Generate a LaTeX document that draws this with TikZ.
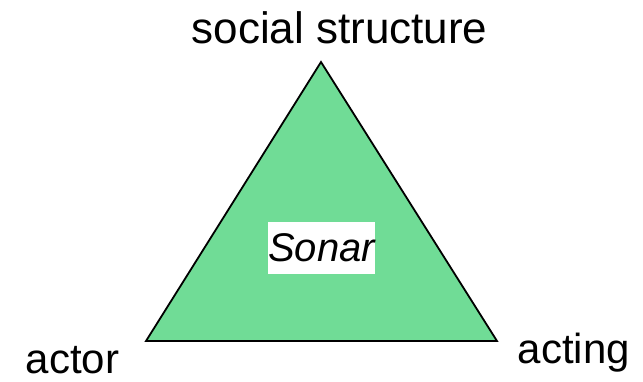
\documentclass[tikz,border=0pt]{standalone}
\usepackage{fontspec}
\setmainfont{Liberation Sans}
\definecolor{sonargreen}{RGB}{112,220,150}

\begin{document}
\begin{tikzpicture}[x=1pt,y=-1pt,
  corner/.style={font=\fontsize{42}{48}\selectfont, anchor=base, inner sep=0pt},
  centre/.style={fill=white, font=\fontsize{40}{46}\selectfont\itshape, minimum width=105pt, minimum height=52pt, inner sep=0pt}]
\useasboundingbox (0,0) rectangle (643,381);
\coordinate (top) at (321,62);
\coordinate (left) at (146,341);
\coordinate (right) at (497,341);
\filldraw[fill=sonargreen, draw=black, line width=1.8pt, line join=miter] (top) -- (left) -- (right) -- cycle;
\node[centre] (sonar) at (321.5,248) {Sonar};
\node[corner, font=\fontsize{44}{50}\selectfont] (structure) at (339.5,43) {social structure};
\node[corner] (actor) at (72.5,373) {actor};
\node[corner] (acting) at (574,363) {acting};
\end{tikzpicture}
\end{document}
